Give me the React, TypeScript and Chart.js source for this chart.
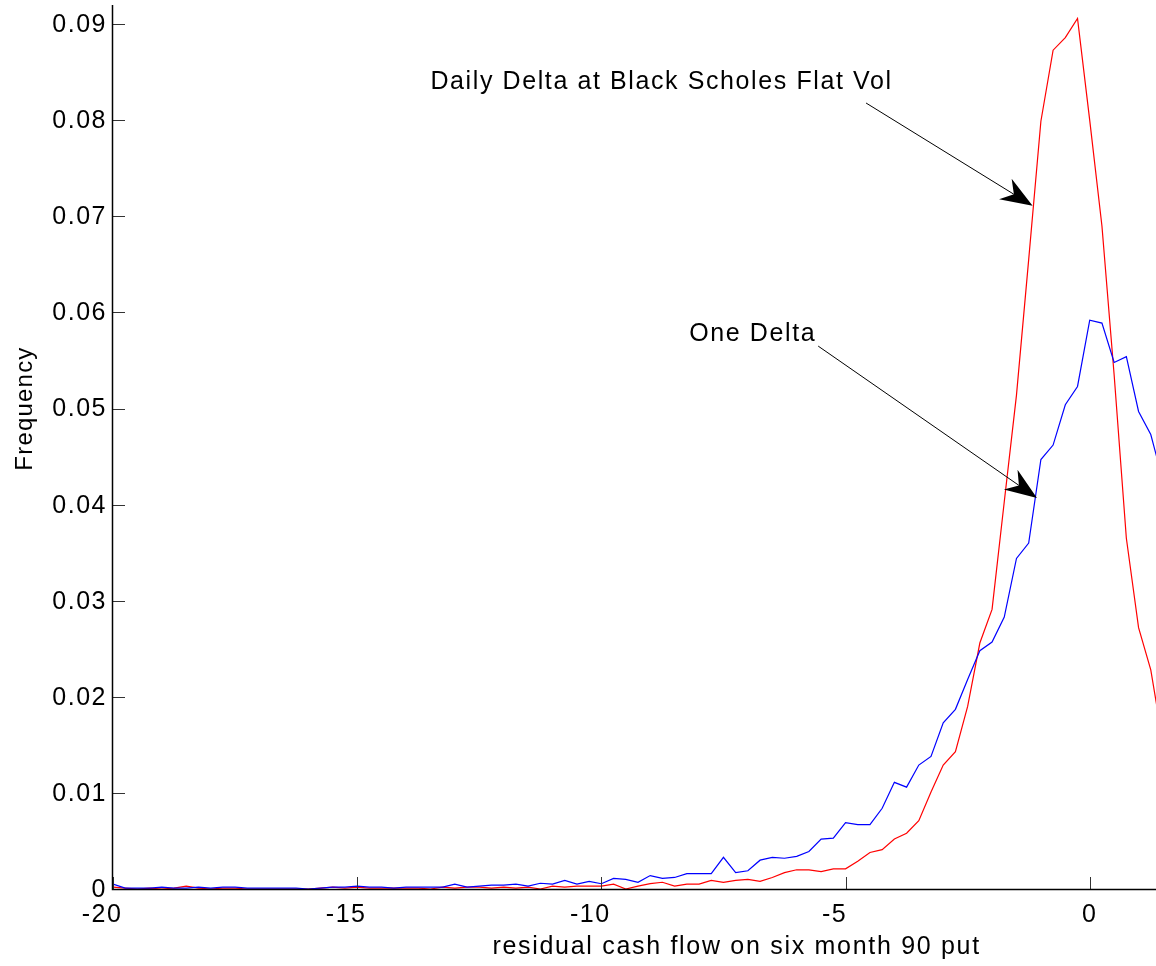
import React, { useEffect, useRef } from "react";
import { Chart, registerables } from "chart.js";

Chart.register(...registerables);

const binCenters = [
  -20, -19.75, -19.5, -19.25, -19, -18.75, -18.5, -18.25, -18, -17.75, -17.5, -17.25,
  -17, -16.75, -16.5, -16.25, -16, -15.75, -15.5, -15.25, -15, -14.75, -14.5, -14.25,
  -14, -13.75, -13.5, -13.25, -13, -12.75, -12.5, -12.25, -12, -11.75, -11.5, -11.25,
  -11, -10.75, -10.5, -10.25, -10, -9.75, -9.5, -9.25, -9, -8.75, -8.5, -8.25,
  -8, -7.75, -7.5, -7.25, -7, -6.75, -6.5, -6.25, -6, -5.75, -5.5, -5.25,
  -5, -4.75, -4.5, -4.25, -4, -3.75, -3.5, -3.25, -3, -2.75, -2.5, -2.25,
  -2, -1.75, -1.5, -1.25, -1, -0.75, -0.5, -0.25, 0, 0.25, 0.5, 0.75,
  1, 1.25, 1.5,
];

const oneDelta = [
  0.0005, 0.0001, 0.0001, 0.0001, 0.0002, 0.0001, 0.0001, 0.0002, 0.0001, 0.0002, 0.0002, 0.0001,
  0.0001, 0.0001, 0.0001, 0.0001, 0.0, 0.0001, 0.0002, 0.0002, 0.0003, 0.0002, 0.0002, 0.0001,
  0.0002, 0.0002, 0.0002, 0.0002, 0.0005, 0.0002, 0.0003, 0.0004, 0.0004, 0.0005, 0.0003, 0.0006,
  0.0005, 0.0009, 0.0005, 0.0008, 0.00055, 0.0011, 0.001, 0.0007, 0.0014, 0.0011, 0.0012, 0.0016,
  0.0016, 0.0016, 0.0033, 0.0017, 0.0019, 0.003, 0.0033, 0.0032, 0.0034, 0.0039, 0.0052, 0.0053,
  0.0069, 0.0067, 0.0067, 0.0084, 0.0111, 0.0106, 0.0129, 0.0138, 0.0173, 0.0187, 0.0218, 0.0248,
  0.0257, 0.0283, 0.0344, 0.036, 0.0447, 0.0462, 0.0504, 0.0523, 0.0592, 0.0589, 0.0548, 0.0554,
  0.0497, 0.0473, 0.0425,
];

const dailyDeltaBS = [
  0.0002, 0.0001, 0.0, 0.0001, 0.0, 0.0001, 0.0003, 0.0001, 0.0, 0.0001, 0.0001, 0.0,
  0.0, 0.0, 0.0, 0.0, 0.0, 0.0001, 0.0002, 0.0001, 0.0002, 0.0001, 0.0001, 0.0001,
  0.0001, 0.0001, 0.0, 0.0002, 0.0001, 0.0002, 0.0002, 0.0001, 0.0002, 0.0001, 0.0002, 0.0,
  0.0003, 0.0002, 0.0003, 0.0003, 0.0003, 0.0005, 0.0, 0.0003, 0.00055, 0.0007, 0.0003, 0.0005,
  0.0005, 0.0009, 0.0007, 0.0009, 0.001, 0.0008, 0.0012, 0.0017, 0.002, 0.002, 0.0018, 0.0021,
  0.0021, 0.0029, 0.0038, 0.0041, 0.0052, 0.0058, 0.0071, 0.0101, 0.0129, 0.0143, 0.019, 0.0256,
  0.0291, 0.0403, 0.0514, 0.0655, 0.0799, 0.0873, 0.0886, 0.0906, 0.08, 0.069, 0.0535, 0.0365,
  0.0272, 0.0228, 0.0152,
];

const xTicks = [-20, -15, -10, -5, 0];
const xTickLabels = ["-20", "-15", "-10", "-5", "0"];
const yTicks = [0, 0.01, 0.02, 0.03, 0.04, 0.05, 0.06, 0.07, 0.08, 0.09];
const yTickLabels = ["0", "0.01", "0.02", "0.03", "0.04", "0.05", "0.06", "0.07", "0.08", "0.09"];

const xTitle = "residual cash flow on six month 90 put";
const yTitle = "Frequency";
const dailyLabel = "Daily Delta at Black Scholes Flat Vol";
const oneLabel = "One Delta";

const FONT = '"Liberation Sans", Arial, Helvetica, sans-serif';

function drawSpaced(ctx: CanvasRenderingContext2D, text: string, x: number, y: number, size: number, spacing: number, align: CanvasTextAlign) {
  ctx.save();
  ctx.font = `${size}px ${FONT}`;
  (ctx as any).letterSpacing = `${spacing}px`;
  ctx.textAlign = align;
  ctx.textBaseline = "middle";
  ctx.fillStyle = "#000";
  ctx.fillText(text, x, y);
  ctx.restore();
}

function drawArrow(ctx: CanvasRenderingContext2D, x0: number, y0: number, x1: number, y1: number) {
  const ang = Math.atan2(y1 - y0, x1 - x0);
  const len = 32;
  const back = 22;
  const wid = 12;
  ctx.save();
  ctx.strokeStyle = "#000";
  ctx.lineWidth = 1;
  ctx.beginPath();
  ctx.moveTo(x0, y0);
  ctx.lineTo(x1 - Math.cos(ang) * back, y1 - Math.sin(ang) * back);
  ctx.stroke();
  const ux = Math.cos(ang), uy = Math.sin(ang);
  const px = -uy, py = ux;
  ctx.fillStyle = "#000";
  ctx.beginPath();
  ctx.moveTo(x1, y1);
  ctx.lineTo(x1 - ux * len + px * wid, y1 - uy * len + py * wid);
  ctx.lineTo(x1 - ux * back, y1 - uy * back);
  ctx.lineTo(x1 - ux * len - px * wid, y1 - uy * len - py * wid);
  ctx.closePath();
  ctx.fill();
  ctx.restore();
}

const decorPlugin = {
  id: "decor",
  afterDraw(chart: any) {
    const ctx: CanvasRenderingContext2D = chart.ctx;
    const xs = chart.scales.x;
    const ys = chart.scales.y;
    const { left, right, top, bottom } = chart.chartArea;

    ctx.save();
    ctx.strokeStyle = "#333";
    ctx.lineWidth = 1;
    yTicks.forEach((v) => {
      const py = Math.round(ys.getPixelForValue(v)) + 0.5;
      ctx.beginPath();
      ctx.moveTo(left, py);
      ctx.lineTo(left + 12, py);
      ctx.stroke();
    });
    xTicks.forEach((v) => {
      const px = Math.round(xs.getPixelForValue(v)) + 0.5;
      ctx.beginPath();
      ctx.moveTo(px, bottom);
      ctx.lineTo(px, bottom - 12);
      ctx.stroke();
    });
    ctx.strokeStyle = "#000";
    ctx.lineWidth = 1.5;
    ctx.beginPath();
    ctx.moveTo(left - 0.5, top);
    ctx.lineTo(left - 0.5, bottom + 0.5);
    ctx.lineTo(right, bottom + 0.5);
    ctx.stroke();
    ctx.restore();

    yTicks.forEach((v, i) => {
      drawSpaced(ctx, yTickLabels[i], left - 6, ys.getPixelForValue(v) + 1, 25, 1.5, "center" === "x" ? "center" : "right");
    });
    xTicks.forEach((v, i) => {
      const lbl = xTickLabels[i];
      const shift = lbl.startsWith("-") ? -11 : 0;
      drawSpaced(ctx, lbl, xs.getPixelForValue(v) + shift, bottom + 26, 25, 1.5, "center");
    });

    drawSpaced(ctx, xTitle, xs.getPixelForValue(-7.23), 947, 25, 1.7, "center");
    ctx.save();
    ctx.translate(25, ys.getPixelForValue(0.05));
    ctx.rotate(-Math.PI / 2);
    drawSpaced(ctx, yTitle, 0, 0, 24, 1.2, "center");
    ctx.restore();

    drawSpaced(ctx, dailyLabel, xs.getPixelForValue(-13.5), ys.getPixelForValue(0.084), 25, 1.6, "left");
    drawArrow(ctx, xs.getPixelForValue(-4.58), ys.getPixelForValue(0.0818), xs.getPixelForValue(-1.17), ys.getPixelForValue(0.0711));
    drawSpaced(ctx, oneLabel, xs.getPixelForValue(-8.2), ys.getPixelForValue(0.0578), 25, 1.6, "left");
    drawArrow(ctx, xs.getPixelForValue(-5.56), ys.getPixelForValue(0.0565), xs.getPixelForValue(-1.08), ys.getPixelForValue(0.0407));
  },
};

export default function App() {
  const ref = useRef<HTMLCanvasElement | null>(null);
  useEffect(() => {
    if (!ref.current) return;
    const chart = new Chart(ref.current, {
      type: "line",
      data: {
        datasets: [
          {
            label: oneLabel,
            data: binCenters.map((x, i) => ({ x, y: oneDelta[i] })),
            borderColor: "#0000ff",
            borderWidth: 1.2,
            pointRadius: 0,
            tension: 0,
          },
          {
            label: dailyLabel,
            data: binCenters.map((x, i) => ({ x, y: dailyDeltaBS[i] })),
            borderColor: "#ff0000",
            borderWidth: 1.2,
            pointRadius: 0,
            tension: 0,
          },
        ],
      },
      options: {
        responsive: false,
        animation: false,
        layout: { padding: { left: 113, top: 5, right: 0, bottom: 77 } },
        plugins: { legend: { display: false }, tooltip: { enabled: false } },
        scales: {
          x: { type: "linear", display: false, min: -20, max: 1.357 },
          y: { type: "linear", display: false, min: 0, max: 0.092 },
        },
      },
      plugins: [decorPlugin],
    });
    return () => chart.destroy();
  }, []);
  return (
    <div style={{ position: "absolute", left: 0, top: 0, width: 1156, height: 966, background: "#fff" }}>
      <canvas ref={ref} width={1156} height={966} />
    </div>
  );
}
